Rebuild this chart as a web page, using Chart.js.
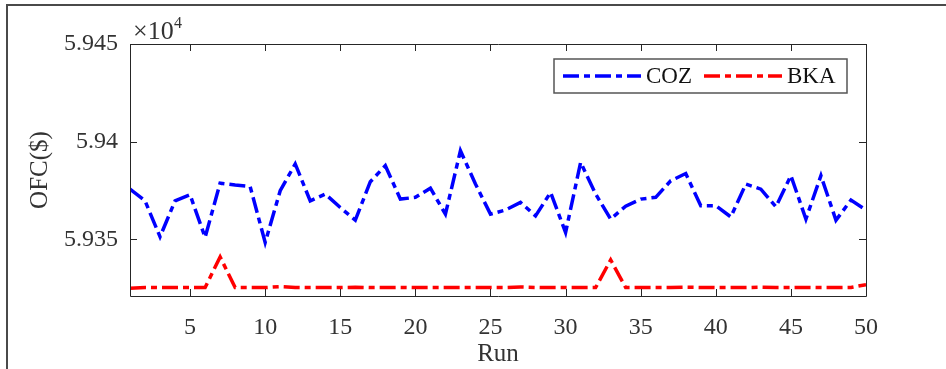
<!DOCTYPE html>
<html>
<head>
<meta charset="utf-8">
<script src="https://cdn.jsdelivr.net/npm/chart.js@4.4.1/dist/chart.umd.min.js"></script>
<style>
body{margin:0;background:#fff;}
#wrap{width:946px;height:369px;}
</style>
</head>
<body>
<div id="wrap"><canvas id="myChart" width="946" height="369"></canvas></div>
<script>
const runs = [];
for (let i = 1; i <= 50; i++) runs.push(i);

const coz = [59375.7,59369.7,59351.3,59369.7,59372.8,59351.0,59378.8,59377.8,59377.0,59348.4,
             59374.9,59388.6,59369.7,59373.2,59366.3,59359.8,59379.5,59387.7,59370.6,59371.5,
             59376.2,59362.9,59395.4,59378.3,59362.9,59365.0,59368.9,59362.0,59374.0,59353.5,
             59389.4,59373.2,59360.4,59367.0,59370.6,59371.5,59380.0,59383.7,59367.2,59367.2,
             59361.5,59378.3,59375.7,59366.7,59382.6,59360.4,59382.6,59359.8,59370.1,59365.0];

const bka = [59325.0,59325.4,59325.3,59325.3,59325.3,59325.3,59341.0,59325.3,59325.3,59325.3,
             59325.8,59325.4,59325.3,59325.3,59325.3,59325.5,59325.3,59325.3,59325.4,59325.3,
             59325.3,59325.3,59325.3,59325.3,59325.3,59325.3,59325.6,59325.4,59325.3,59325.3,
             59325.3,59325.3,59339.5,59325.3,59325.3,59325.3,59325.3,59325.5,59325.4,59325.3,
             59325.3,59325.3,59325.5,59325.3,59325.3,59325.4,59325.3,59325.3,59325.4,59326.8];

const xTicks = [5,10,15,20,25,30,35,40,45,50];
const yTicks = [59350,59400,59450];

const ctx = document.getElementById('myChart').getContext('2d');

const axisColor = '#333333';
const serif = '"Liberation Serif", "Times New Roman", serif';

const framePlugin = {
	id:'frame',
	beforeDraw(chart){
		const c = chart.ctx;
		c.save();
		c.fillStyle = '#fff';
		c.fillRect(0,0,chart.width,chart.height);
		// figure border
		c.strokeStyle = '#4a4a4a';
		c.lineWidth = 2;
		c.beginPath();
		c.moveTo(7,369);
		c.lineTo(7,5);
		c.lineTo(946,5);
		c.stroke();
		c.restore();
	},
	afterDraw(chart){
		const c = chart.ctx;
		const a = chart.chartArea;
		const xs = chart.scales.x, ys = chart.scales.y;
		c.save();
		c.strokeStyle = '#262626';
		c.lineWidth = 1;
		c.beginPath();
		c.rect(a.left+0.5, a.top+0.5, a.right-a.left, a.bottom-a.top);
		c.stroke();
		// inner ticks
		c.beginPath();
		xTicks.forEach(v=>{
			const px = Math.round(xs.getPixelForValue(v))+0.5;
			c.moveTo(px,a.bottom); c.lineTo(px,a.bottom-7);
			c.moveTo(px,a.top); c.lineTo(px,a.top+7);
		});
		yTicks.forEach(v=>{
			const py = Math.round(ys.getPixelForValue(v))+0.5;
			c.moveTo(a.left,py); c.lineTo(a.left+7,py);
			c.moveTo(a.right,py); c.lineTo(a.right-7,py);
		});
		c.stroke();
		// exponent
		c.fillStyle = axisColor;
		c.font = '26px ' + serif;
		c.textBaseline = 'alphabetic';
		c.textAlign = 'left';
		c.fillText('\u00d710', 133, 39);
		c.font = '16px ' + serif;
		c.fillText('4', 174, 28);
		// legend
		const lx = 554, ly = 59, lw = 293, lh = 34;
		c.fillStyle = '#fff';
		c.fillRect(lx,ly,lw,lh);
		c.strokeStyle = '#555';
		c.lineWidth = 1.5;
		c.strokeRect(lx,ly,lw,lh);
		const items = [
			{label:'COZ', color:'#0000ff', x0:563, x1:641, tx:646},
			{label:'BKA', color:'#ff0000', x0:704, x1:782, tx:787}
		];
		items.forEach(it=>{
			c.strokeStyle = it.color;
			c.lineWidth = 3.5;
			c.setLineDash([16,5,6,5]);
			c.beginPath();
			c.moveTo(it.x0, ly+lh/2);
			c.lineTo(it.x1, ly+lh/2);
			c.stroke();
			c.setLineDash([]);
			c.fillStyle = '#111';
			c.font = '23px ' + serif;
			c.textBaseline = 'middle';
			c.fillText(it.label, it.tx, ly+lh/2+1);
		});
		c.restore();
	}
};

const config = {
	type:'line',
	data:{
		labels:runs,
		datasets:[
			{
				label:'COZ',
				data:coz,
				borderColor:'#0000ff',
				borderWidth:3.5,
				borderDash:[16,5,6,5],
				pointRadius:0,
				tension:0,
				fill:false
			},
			{
				label:'BKA',
				data:bka,
				borderColor:'#ff0000',
				borderWidth:3.5,
				borderDash:[16,5,6,5],
				pointRadius:0,
				tension:0,
				fill:false
			}
		]
	},
	options:{
		responsive:false,
		animation:false,
		layout:{padding:{top:44,right:80,left:0,bottom:0}},
		plugins:{legend:{display:false},tooltip:{enabled:false}},
		scales:{
			x:{
				type:'linear',
				min:1,
				max:50,
				afterBuildTicks(scale){ scale.ticks = xTicks.map(v=>({value:v})); },
				afterFit(scale){ scale.height = 73; },
				grid:{display:false, drawTicks:false},
				border:{display:false},
				ticks:{
					color:axisColor,
					padding:17,
					maxRotation:0,
					font:{family:serif,size:24},
					callback:v=>v
				},
				title:{
					display:true,
					text:'Run',
					color:axisColor,
					padding:{top:-6,bottom:0},
					font:{family:serif,size:25}
				}
			},
			y:{
				min:59321,
				max:59450,
				afterBuildTicks(scale){ scale.ticks = yTicks.map(v=>({value:v})); },
				afterFit(scale){ scale.width = 130; },
				grid:{display:false, drawTicks:false},
				border:{display:false},
				ticks:{
					color:axisColor,
					padding:12,
					font:{family:serif,size:24},
					callback:v=>(v/10000).toString()
				},
				title:{
					display:true,
					text:'OFC($)',
					color:axisColor,
					padding:{top:25,bottom:0},
					font:{family:serif,size:25}
				}
			}
		}
	},
	plugins:[framePlugin]
};

const mychart = new Chart(ctx, config);
</script>
</body>
</html>
